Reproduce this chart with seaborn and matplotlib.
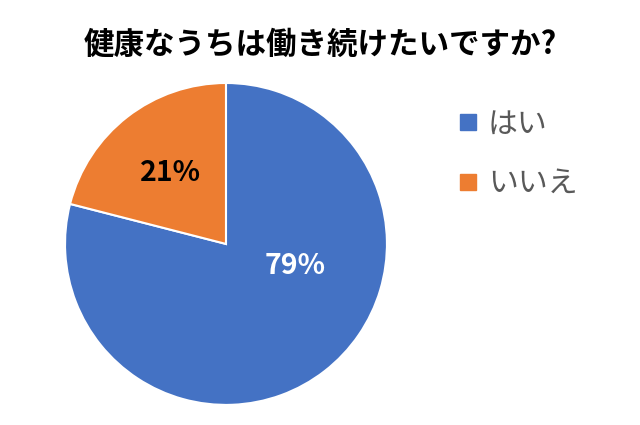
import matplotlib
matplotlib.use("Agg")
import matplotlib.pyplot as plt
from matplotlib.lines import Line2D
import numpy as np
import seaborn as sns

title = "健康なうちは働き続けたいですか?"
answers = ["はい", "いいえ"]
shares = [79, 21]
colors = ["#4472C4", "#ED7D31"]

sns.set_theme(style="white")
plt.rcParams["font.family"] = ["Noto Sans CJK JP", "DejaVu Sans"]

fig = plt.figure(figsize=(6.4, 4.25), dpi=100)
ax = fig.add_axes([0.1016, 0.047, 0.503, 0.758])

wedges, texts, autotexts = ax.pie(
    shares, colors=colors, startangle=90, counterclock=False,
    autopct="%d%%", pctdistance=0.56,
    wedgeprops=dict(edgecolor="white", linewidth=1.5),
    textprops=dict(fontsize=20.5, fontweight="bold"),
)
ax.set_aspect("equal")
ax.set_xlim(-1, 1)
ax.set_ylim(-1, 1)

# put labels where Excel's best fit puts them
autotexts[0].set_color("white")
autotexts[0].set_position((0.45 * np.cos(np.radians(-17.5)), 0.45 * np.sin(np.radians(-17.5))))
autotexts[1].set_color("black")

fig.text(0.5, 0.894, title, ha="center", va="center", fontsize=22, fontweight="bold", color="black")

handles = [Line2D([0], [0], marker="s", linestyle="", markersize=11.5, color=c) for c in colors]
leg = fig.legend(handles, answers, loc="center left", bbox_to_anchor=(0.662, 0.638),
                 frameon=False, fontsize=21.5, labelspacing=0.95, handletextpad=0.05,
                 handlelength=1.2)
for t in leg.get_texts():
    t.set_color("#595959")

fig.savefig("out.png", dpi=100)
